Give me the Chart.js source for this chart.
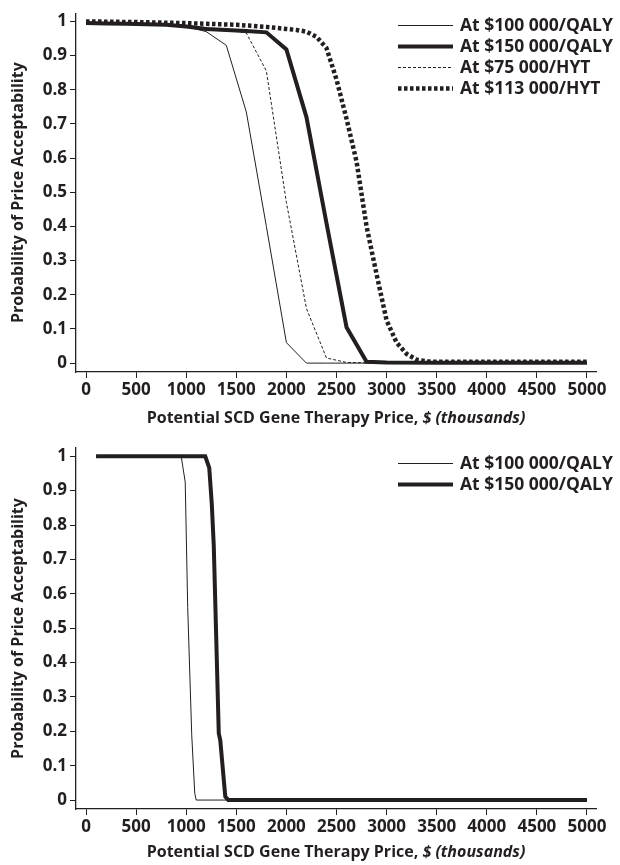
<!DOCTYPE html>
<html>
<head>
<meta charset="utf-8">
<script src="https://cdn.jsdelivr.net/npm/chart.js@4"></script>
<style>
  html, body { margin: 0; padding: 0; background: #fff; }
  #wrap { width: 620px; height: 865px; position: relative; }
  canvas { display: block; }
</style>
</head>
<body>
<div id="wrap">
  <canvas id="topChart" width="620" height="432"></canvas>
  <canvas id="bottomChart" width="620" height="433"></canvas>
</div>
<script>
// tick labels
const xTickValues = [0, 500, 1000, 1500, 2000, 2500, 3000, 3500, 4000, 4500, 5000];
const yTickValues = [0, 0.1, 0.2, 0.3, 0.4, 0.5, 0.6, 0.7, 0.8, 0.9, 1];

// top panel: price grid (thousands $) and probabilities
const topPrices = [0, 200, 400, 600, 800, 1000, 1200, 1400, 1600, 1800, 2000, 2200, 2400, 2600, 2800, 3000, 3500, 4000, 4500, 5000];
const qaly100Top = [0.995, 0.994, 0.993, 0.992, 0.99, 0.985, 0.97, 0.93, 0.735, 0.40, 0.06, 0, 0, 0, 0, 0, 0, 0, 0, 0];
const qaly150Top = [0.995, 0.994, 0.993, 0.992, 0.99, 0.985, 0.978, 0.975, 0.972, 0.968, 0.918, 0.72, 0.41, 0.105, 0.004, 0.002, 0.001, 0.001, 0.001, 0.001];
const hyt75Top = [0.997, 0.996, 0.995, 0.994, 0.992, 0.988, 0.982, 0.975, 0.966, 0.855, 0.47, 0.16, 0.015, 0.002, 0.001, 0.001, 0.001, 0.001, 0.001, 0.001];

const hyt113Prices = [0, 500, 1000, 1500, 1800, 2000, 2100, 2200, 2300, 2400, 2500, 2600, 2700, 2800, 2900, 3000, 3100, 3200, 3300, 3400, 3500, 4000, 4500, 5000];
const hyt113Top = [1.0, 0.998, 0.995, 0.99, 0.984, 0.978, 0.975, 0.97, 0.955, 0.922, 0.83, 0.715, 0.59, 0.40, 0.26, 0.125, 0.06, 0.027, 0.01, 0.005, 0.004, 0.004, 0.004, 0.004];

// bottom panel
const qaly100BottomPrices = [100, 950, 990, 1015, 1055, 1085, 1100, 5000];
const qaly100Bottom = [1, 1, 0.925, 0.56, 0.19, 0.02, 0, 0];
const qaly150BottomPrices = [100, 1190, 1230, 1255, 1275, 1325, 1340, 1390, 1420, 5000];
const qaly150Bottom = [1, 1, 0.966, 0.862, 0.74, 0.194, 0.174, 0.01, 0, 0];

const INK = '#231f20';
const FONT = '"Open Sans", "DejaVu Sans", sans-serif';

function pts(xs, ys) {
  return xs.map((x, i) => ({ x: x, y: ys[i] }));
}

const styles = {
  thin:   { borderWidth: 1,   borderDash: [] },
  thick:  { borderWidth: 4,   borderDash: [] },
  dashed: { borderWidth: 1,   borderDash: [3, 2] },
  dotted: { borderWidth: 4.5, borderDash: [3.5, 2.5] }
};

function makeDataset(label, data, style) {
  return Object.assign({
    label: label,
    data: data,
    borderColor: INK,
    backgroundColor: INK,
    pointRadius: 0,
    tension: 0,
    fill: false,
    borderCapStyle: 'butt',
    borderJoinStyle: 'miter'
  }, styles[style]);
}

// legend + axis titles drawn on canvas after the chart
const annotate = {
  id: 'annotate',
  afterDraw(chart, args, opts) {
    const ctx = chart.ctx;
    const area = chart.chartArea;
    ctx.save();
    ctx.fillStyle = INK;
    ctx.strokeStyle = INK;

    // legend
    ctx.font = 'bold 17.5px ' + FONT;
    ctx.textBaseline = 'middle';
    ctx.textAlign = 'left';
    chart.data.datasets.forEach((ds, i) => {
      const y = opts.legendTop + i * opts.legendStep;
      ctx.beginPath();
      ctx.lineWidth = ds.borderWidth;
      ctx.setLineDash(ds.borderDash || []);
      ctx.moveTo(opts.legendX, y);
      ctx.lineTo(opts.legendX + opts.legendLen, y);
      ctx.stroke();
      ctx.setLineDash([]);
      ctx.fillText(ds.label, opts.legendX + opts.legendLen + 7, y + 1);
    });

    // y title
    ctx.save();
    ctx.translate(opts.yTitleX, (area.top + area.bottom) / 2);
    ctx.rotate(-Math.PI / 2);
    ctx.textAlign = 'center';
    ctx.font = 'bold 16px ' + FONT;
    ctx.fillText('Probability of Price Acceptability', 0, 0);
    ctx.restore();

    // x title, normal + italic parts
    const partA = 'Potential SCD Gene Therapy Price, ';
    const partB = '$ (thousands)';
    ctx.font = 'bold 16px ' + FONT;
    const wA = ctx.measureText(partA).width;
    ctx.font = 'italic bold 16px ' + FONT;
    const wB = ctx.measureText(partB).width;
    const x0 = (area.left + area.right) / 2 - (wA + wB) / 2;
    ctx.textAlign = 'left';
    ctx.font = 'bold 16px ' + FONT;
    ctx.fillText(partA, x0, opts.xTitleY);
    ctx.font = 'italic bold 16px ' + FONT;
    ctx.fillText(partB, x0 + wA, opts.xTitleY);
    ctx.restore();
  }
};

function makeOptions(padTop, xScaleHeight, titleOpts) {
  return {
    responsive: false,
    animation: false,
    events: [],
    layout: { padding: { top: padTop, right: 24, left: 0, bottom: 0 } },
    plugins: {
      legend: { display: false },
      tooltip: { enabled: false },
      annotate: titleOpts
    },
    scales: {
      x: {
        type: 'linear',
        min: -100,
        max: 5090,
        afterBuildTicks: s => { s.ticks = xTickValues.map(v => ({ value: v })); },
        afterFit: s => { s.height = xScaleHeight; },
        grid: { drawOnChartArea: false, color: INK, tickLength: 6, lineWidth: 1 },
        border: { display: true, color: INK, width: 1.3 },
        ticks: {
          color: INK,
          padding: 2,
          maxRotation: 0,
          autoSkip: false,
          font: { family: FONT, size: 17, weight: 'bold' },
          callback: v => String(v)
        }
      },
      y: {
        type: 'linear',
        min: -0.026,
        max: 1.024,
        afterBuildTicks: s => { s.ticks = yTickValues.map(v => ({ value: v })); },
        afterFit: s => { s.width = 76; },
        grid: { drawOnChartArea: false, color: INK, tickLength: 6, lineWidth: 1 },
        border: { display: true, color: INK, width: 1.3 },
        ticks: {
          color: INK,
          padding: 3,
          autoSkip: false,
          font: { family: FONT, size: 17, weight: 'bold' },
          callback: v => String(Math.round(v * 10) / 10)
        }
      }
    }
  };
}

new Chart(document.getElementById('topChart'), {
  type: 'line',
  data: {
    datasets: [
      makeDataset('At $100 000/QALY', pts(topPrices, qaly100Top), 'thin'),
      makeDataset('At $150 000/QALY', pts(topPrices, qaly150Top), 'thick'),
      makeDataset('At $75 000/HYT', pts(topPrices, hyt75Top), 'dashed'),
      makeDataset('At $113 000/HYT', pts(hyt113Prices, hyt113Top), 'dotted')
    ]
  },
  options: makeOptions(10, 60, { legendX: 398, legendLen: 55, legendTop: 25.5, legendStep: 21, yTitleX: 18, xTitleY: 418 }),
  plugins: [annotate]
});

new Chart(document.getElementById('bottomChart'), {
  type: 'line',
  data: {
    datasets: [
      makeDataset('At $100 000/QALY', pts(qaly100BottomPrices, qaly100Bottom), 'thin'),
      makeDataset('At $150 000/QALY', pts(qaly150BottomPrices, qaly150Bottom), 'thick')
    ]
  },
  options: makeOptions(16, 56, { legendX: 398, legendLen: 55, legendTop: 31.5, legendStep: 21, yTitleX: 18, xTitleY: 420 }),
  plugins: [annotate]
});
</script>
</body>
</html>
